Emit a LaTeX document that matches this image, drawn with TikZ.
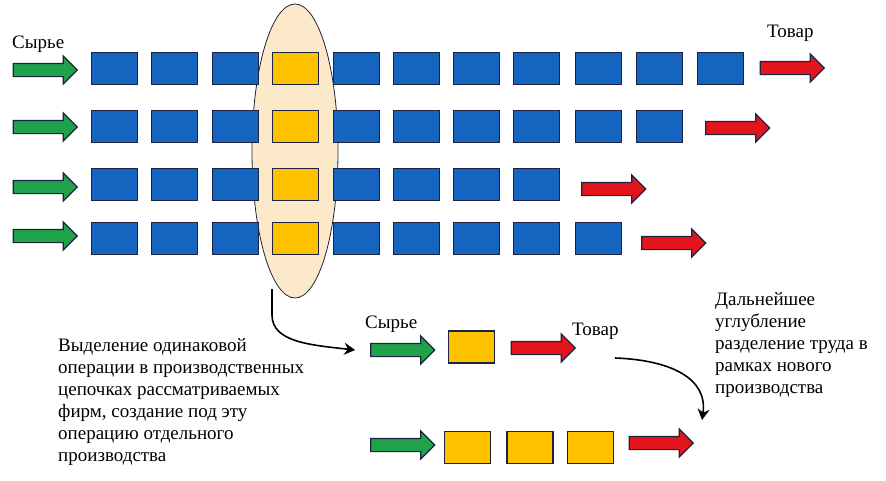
\documentclass[tikz,border=0pt]{standalone}
\usepackage{fontspec}
\setmainfont{Liberation Serif}
\newfontfamily\serf{Liberation Serif}
\usetikzlibrary{shapes.arrows,shapes.geometric,arrows.meta}
\definecolor{bblue}{HTML}{1565C0}
\definecolor{byel}{HTML}{FFC000}
\definecolor{bgreen}{HTML}{1FA24A}
\definecolor{bred}{HTML}{E3141B}
\definecolor{bord}{HTML}{1A2340}
\definecolor{peach}{HTML}{FCE9C9}
\tikzset{
  opbox/.style={draw=bord, line width=1.4pt, minimum width=46pt, minimum height=32pt, inner sep=0pt},
  bluebox/.style={opbox, fill=bblue},
  yelbox/.style={opbox, fill=byel},
  blockarrow/.style={single arrow, draw=bord, line width=1.2pt, inner xsep=0pt, inner ysep=6pt,
     minimum height=64pt, single arrow head extend=7.5pt, single arrow head indent=0pt, xshift=-3pt},
  inarrow/.style={blockarrow, fill=bgreen},
  outarrow/.style={blockarrow, fill=bred},
  lbl/.style={font=\serf\fontsize{19}{22}\selectfont, inner sep=0pt},
  conn/.style={line width=1.6pt, -{Stealth[length=11pt,width=12pt]}}
}
\begin{document}
\begin{tikzpicture}[x=1pt,y=-1pt]
\useasboundingbox (0,0) rectangle (886,480);
% ellipse
\node[draw=bord, line width=0.8pt, fill=peach, ellipse, minimum width=86pt, minimum height=294pt, inner sep=0pt] (ell) at (295,151) {};
% row boxes
\def\xs{114.5,174.5,235.5,295.5,356.5,416.5,476.5,536.5,598.5,659.5,720.5}
\foreach \y/\n/\r in {68.5/11/1, 126.5/10/2, 184.5/8/3, 238.5/9/4}{
  \foreach \x [count=\i] in \xs {
    \ifnum\i>\n\else
      \ifnum\i=4
        \node[yelbox] (r\r b\i) at (\x,\y) {};
      \else
        \node[bluebox] (r\r b\i) at (\x,\y) {};
      \fi
    \fi
  }
}
% green arrows
\node[inarrow] (g1) at (45,70) {};
\node[inarrow] (g2) at (45,127) {};
\node[inarrow] (g3) at (45,187) {};
\node[inarrow] (g4) at (45,236) {};
% red arrows
\node[outarrow] (o1) at (792,68) {};
\node[outarrow] (o2) at (737.5,128) {};
\node[outarrow] (o3) at (613.5,189) {};
\node[outarrow] (o4) at (673.5,243) {};
% labels
\node[lbl, anchor=base west] (raw1) at (12,48) {Сырье};
\node[lbl, anchor=base west] (prod1) at (767,37) {Товар};
% bottom first chain
\node[lbl, anchor=base west] (raw2) at (365,328) {Сырье};
\node[inarrow] (bg1) at (402.5,350) {};
\node[yelbox] (bb1) at (471.5,347) {};
\node[outarrow] (bo1) at (543,348) {};
\node[lbl, anchor=base west] (prod2) at (572,335) {Товар};
% bottom second chain
\node[inarrow] (bg2) at (402.5,445) {};
\node[yelbox] (bc1) at (467.5,447.5) {};
\node[yelbox] (bc2) at (530,447.5) {};
\node[yelbox] (bc3) at (590.5,447.5) {};
\node[outarrow] (bo2) at (661,443) {};
% texts
\node[lbl, anchor=north west, align=left] (t1) at (58,338) {Выделение одинаковой\\операции в производственных\\цепочках рассматриваемых\\фирм, создание под эту\\операцию отдельного\\производства};
\node[lbl, anchor=north west, align=left] (t2) at (715,292) {Дальнейшее\\углубление\\разделение труда в\\рамках нового\\производства};
% connectors
\coordinate (c1) at (272,289);
\coordinate (c2) at (615,358);
\draw[conn] (c1) -- (272,315) .. controls (272,342) and (310,345) .. ([xshift=-15pt]bg1.west);
\draw[conn] (c2) .. controls (670,360) and (708,378) .. (702,420);
\end{tikzpicture}
\end{document}
